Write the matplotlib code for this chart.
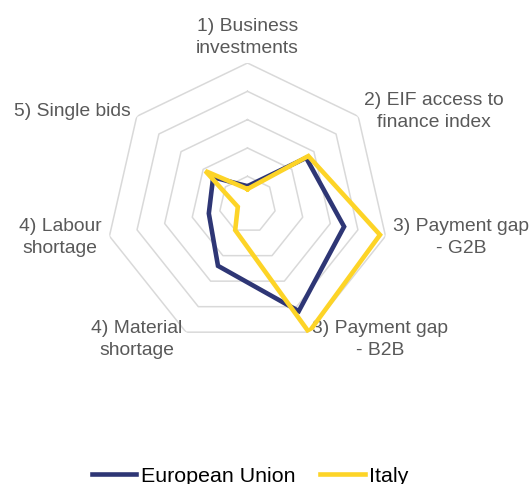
import matplotlib
matplotlib.use('Agg')
import matplotlib.pyplot as plt
import numpy as np

plt.rcParams['font.family'] = ['Liberation Sans', 'DejaVu Sans']

categories = ['1) Business\ninvestments', '2) EIF access to\nfinance index', '3) Payment gap\n- G2B',
              '3) Payment gap\n- B2B', '4) Material\nshortage', '4) Labour\nshortage', '5) Single bids']
eu_values = [0.13, 0.53, 0.70, 0.835, 0.48, 0.28, 0.31]
italy_values = [0.11, 0.55, 0.96, 1.0, 0.20, 0.07, 0.38]
ring_levels = [0.2, 0.4, 0.6, 0.8, 1.0]

EU_COLOR = '#2E3675'
ITALY_COLOR = '#FDD427'
GRID_COLOR = '#D9D9D9'
TEXT_COLOR = '#595959'


def closed(values):
    return list(values) + [values[0]]


fig = plt.figure(figsize=(5.31, 4.84), dpi=100)
ax = fig.add_axes([0.1994, 0.2847, 0.5333, 0.5851], projection='polar')
ax.set_theta_zero_location('N')
ax.set_theta_direction(-1)
ax.set_ylim(0, 1)
ax.set_xticks([])
ax.set_yticks([])
ax.grid(False)
ax.spines['polar'].set_visible(False)
ax.patch.set_visible(False)

angles = np.arange(len(categories)) * 2 * np.pi / len(categories)

# heptagon rings
for level in ring_levels:
    ax.plot(closed(angles), [level] * (len(angles) + 1), color=GRID_COLOR, lw=1.1, zorder=1)

ax.plot(closed(angles), closed(eu_values), color=EU_COLOR, lw=3.3, label='European Union',
        solid_joinstyle='miter', zorder=3)
ax.plot(closed(angles), closed(italy_values), color=ITALY_COLOR, lw=3.3, label='Italy',
        solid_joinstyle='miter', zorder=4)

# category labels just outside the outer ring
for ang, name in zip(angles, categories):
    s, c = np.sin(ang), np.cos(ang)
    if s > 0.1:
        ha = 'left'
    elif s < -0.1:
        ha = 'right'
    else:
        ha = 'center'
    va = 'bottom' if c > 0.95 else 'center'
    ax.annotate(name, xy=(ang, 1.0), xytext=(8 * s, 6 * c if c > 0.95 else 8 * c),
                textcoords='offset pixels', ha=ha, va=va, multialignment='center',
                linespacing=1.4, fontsize=13.9, color=TEXT_COLOR, annotation_clip=False)

fig.legend(loc='center', bbox_to_anchor=(250 / 531, 8 / 484), ncol=2, frameon=False,
           fontsize=15.4, handlelength=2.1, handletextpad=0.2, columnspacing=1.15,
           borderaxespad=0, borderpad=0)

plt.savefig('out.png', dpi=100)
